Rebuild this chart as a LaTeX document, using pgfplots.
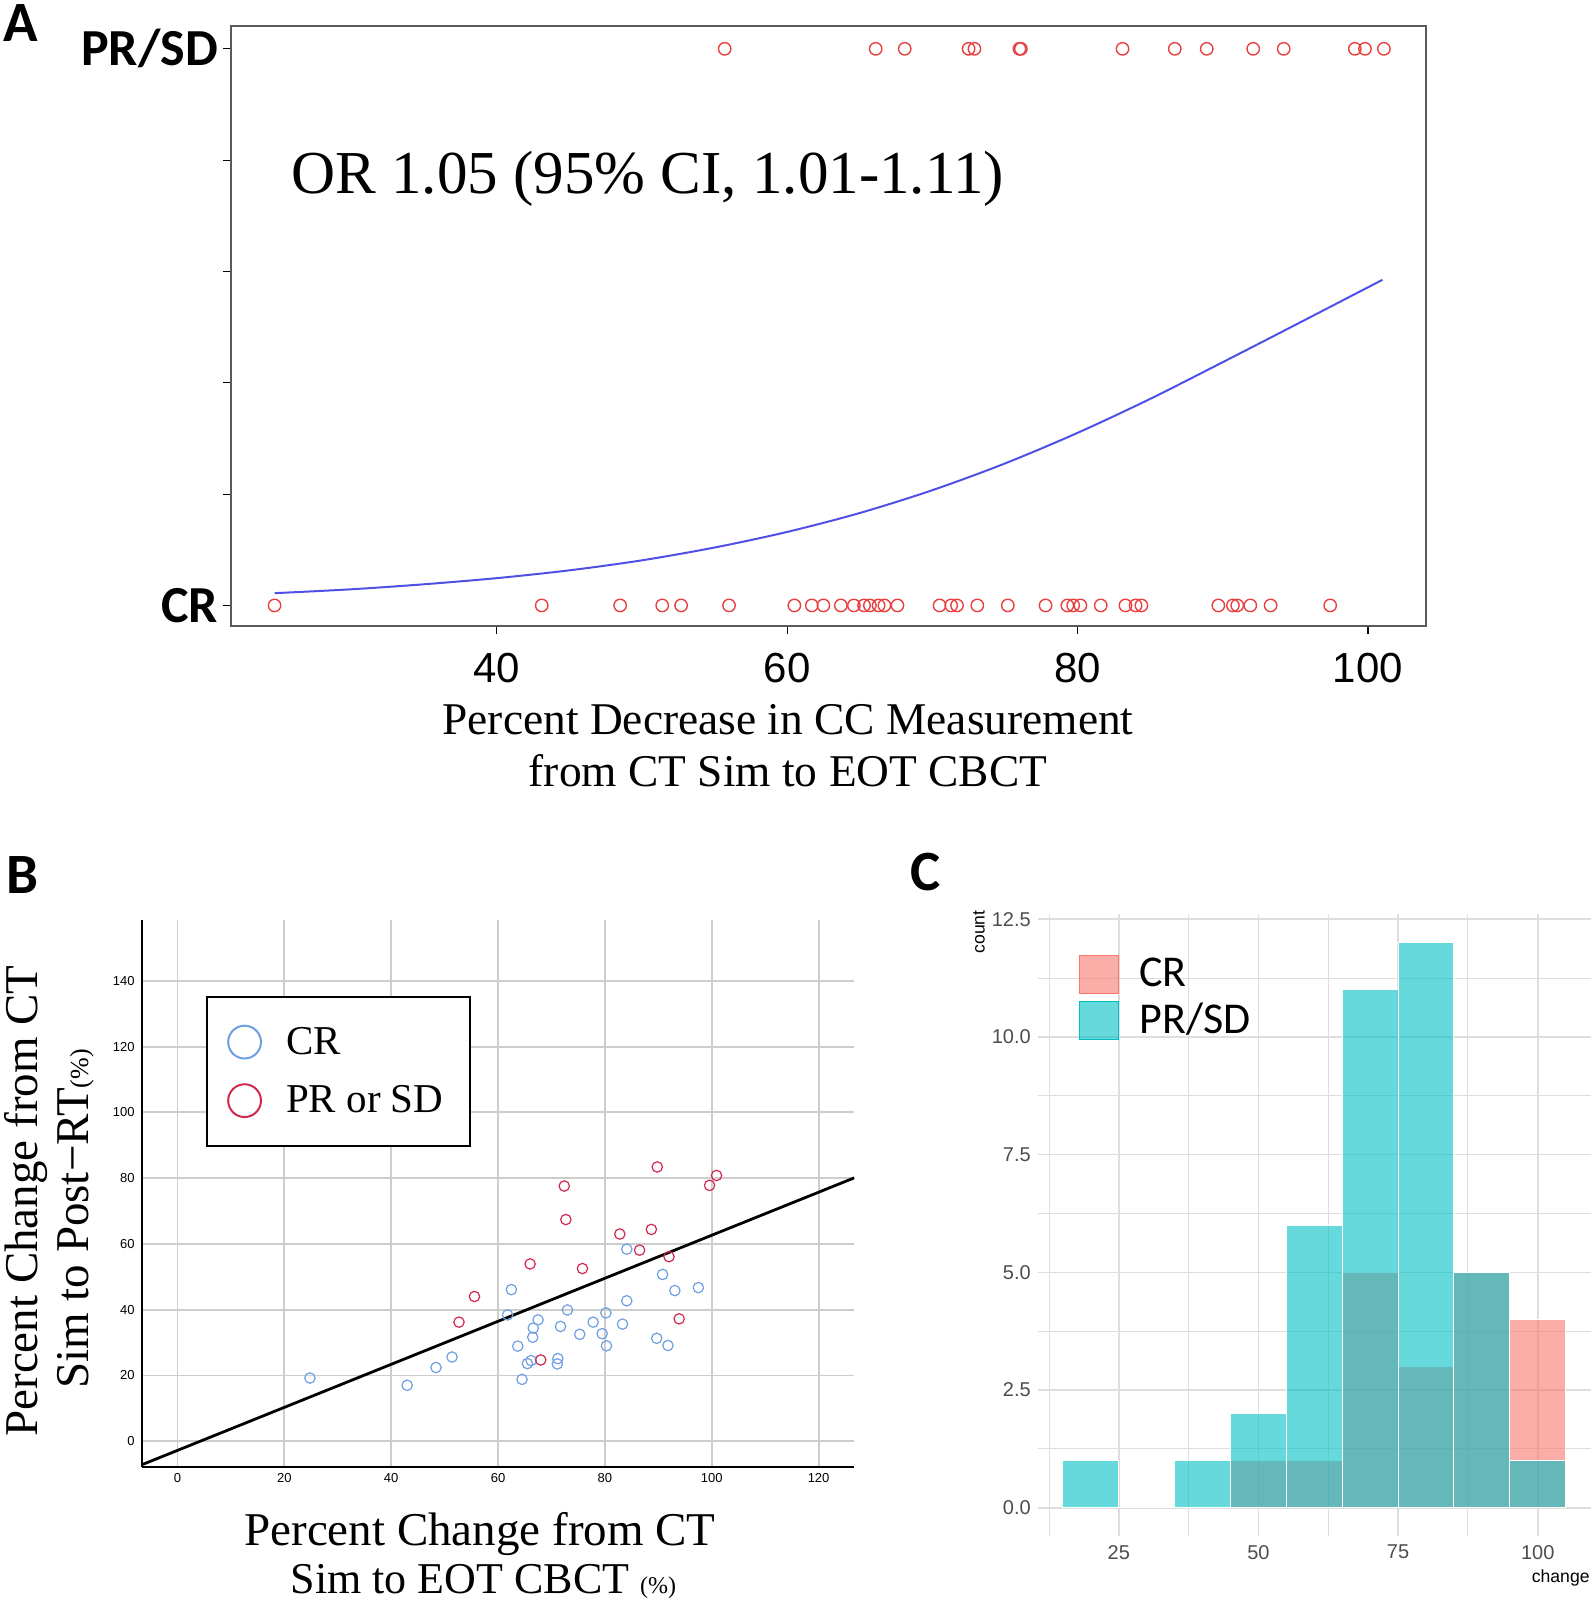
\documentclass[border=0pt]{standalone}
\usepackage{pgfplots}
\pgfplotsset{compat=1.18}
\usepackage{fontspec}
\setmainfont{Liberation Serif}
\newfontfamily\carlito{Carlito}
\newfontfamily\lsans{Liberation Sans}
\definecolor{aRed}{RGB}{232,64,64}
\definecolor{aBlue}{RGB}{80,80,230}
\definecolor{frameGray}{RGB}{90,90,90}
\definecolor{bBlue}{RGB}{110,160,225}
\definecolor{bRed}{RGB}{210,40,80}
\definecolor{gridB}{RGB}{205,205,205}
\definecolor{gridC}{RGB}{222,222,222}
\definecolor{tickGray}{RGB}{77,77,77}
\definecolor{ggPink}{HTML}{F8766D}
\definecolor{ggCyan}{HTML}{00BFC4}
\begin{document}
\begin{tikzpicture}[x=1pt,y=1pt]
\useasboundingbox (0,0) rectangle (797,-804);
% ---------------- Panel A ----------------
\begin{axis}[
  at={(115.5pt,-313pt)}, anchor=south west, scale only axis,
  width=597.5pt, height=300pt,
  xmin=21.7, xmax=104, ymin=-0.037, ymax=1.041,
  axis line style={draw=frameGray, line width=1pt},
  xtick={40,60,80,100}, ytick={0,0.2,0.4,0.6,0.8,1},
  yticklabels={CR,,,,,PR/SD},
  xtick pos=left, ytick pos=left, tick align=outside, major tick length=4pt,
  tick style={black, line width=0.6pt},
  /pgf/number format/assume math mode=true,
  xticklabel style={font=\lsans\fontsize{21}{21}\selectfont, yshift=-6pt},
  yticklabel style={font=\carlito\bfseries\fontsize{26}{26}\selectfont, xshift=1pt},
  clip=false,
]
\addplot[aBlue, line width=1pt, smooth] coordinates {
(24.7,0.022) (30,0.029) (35,0.038) (40,0.049) (45,0.063) (50,0.081) (55,0.104) (60,0.132)
(65,0.166) (70,0.207) (75,0.255) (80,0.310) (85,0.371) (90,0.437) (95,0.504) (101,0.585)};
\addplot[only marks, mark=o, color=aRed, mark size=3.1pt, line width=0.7pt] coordinates {
(55.7,1) (66.1,1) (68.1,1) (72.5,1) (72.9,1) (76.0,1) (76.1,1) (83.1,1) (86.7,1) (88.9,1)
(92.1,1) (94.2,1) (99.1,1) (99.8,1) (101.1,1)};
\addplot[only marks, mark=o, color=aRed, mark size=3.1pt, line width=0.7pt] coordinates {
(24.7,0) (43.1,0) (48.5,0) (51.4,0) (52.7,0) (56.0,0) (60.5,0) (61.7,0) (62.5,0) (63.7,0)
(64.6,0) (65.3,0) (65.7,0) (66.3,0) (66.7,0) (67.6,0) (70.5,0) (71.3,0) (71.7,0) (73.1,0)
(75.2,0) (77.8,0) (79.3,0) (79.7,0) (80.2,0) (81.6,0) (83.3,0) (84.0,0) (84.4,0) (89.7,0)
(90.7,0) (91.0,0) (91.9,0) (93.3,0) (97.4,0)};
\end{axis}
\node[anchor=base west, inner sep=0pt, font=\fontsize{30.5}{30.5}\selectfont] at (145.5,-96.5) {OR 1.05 (95\% CI, 1.01-1.11)};
\node[anchor=base, inner sep=0pt, font=\fontsize{22.7}{22.7}\selectfont] at (394,-367) {Percent Decrease in CC Measurement};
\node[anchor=base, inner sep=0pt, font=\fontsize{22.7}{22.7}\selectfont] at (394,-393) {from CT Sim to EOT CBCT};
\node[anchor=base west, inner sep=0pt, font=\carlito\bfseries\fontsize{28.5}{28.5}\selectfont] at (1.5,-20.5) {A};
% ---------------- Panel B ----------------
\begin{axis}[
  at={(70.8pt,-733.4pt)}, anchor=south west, scale only axis,
  width=356.4pt, height=273.4pt,
  xmin=-6.7, xmax=126.7, ymin=-7.8, ymax=158.5,
  axis x line*=bottom, axis y line*=left,
  axis line style={black, line width=0.9pt},
  xtick={0,20,...,120}, ytick={0,20,...,140},
  grid=major, grid style={draw=gridB, line width=0.9pt},
  major tick length=0pt,
  /pgf/number format/assume math mode=true,
  ticklabel style={font=\lsans\fontsize{6.5}{6.5}\selectfont},
  legend style={at={(axis description cs:0.0906,0.861)}, anchor=north west,
    draw=black, line width=1pt, fill=white,
    font=\fontsize{20.5}{20.5}\selectfont,
    inner xsep=10.5pt, inner ysep=12pt,
    nodes={inner sep=3pt},
    row sep=8.2pt,
    /tikz/every odd column/.append style={column sep=9.6pt}},
  legend cell align=left,
  legend image code/.code={\draw[#1, mark size=8.2pt, line width=1pt] plot coordinates {(0pt,0pt)};},
]
\addplot[black, line width=1.4pt, forget plot] coordinates {(-6.7,-7.2) (126.7,80.1)};
\addplot[only marks, mark=o, color=bBlue, mark size=2.6pt, line width=0.6pt] coordinates {
(24.8,19.2) (43.0,17.0) (48.4,22.4) (51.4,25.6) (62.5,46.1) (61.8,38.4) (63.7,28.9) (64.5,18.8)
(65.5,23.6) (66.2,24.5) (66.5,31.6) (66.6,34.4) (67.5,36.9) (71.1,23.5) (71.2,25.1) (71.7,34.9)
(73.0,39.9) (75.3,32.5) (77.8,36.2) (79.5,32.7) (80.2,39.0) (80.3,29.0) (83.3,35.6) (84.1,42.7)
(84.1,58.4) (89.7,31.3) (90.8,50.7) (91.8,29.1) (93.1,45.8) (97.5,46.7)};
\addlegendentry{CR}
\addplot[only marks, mark=o, color=bRed, mark size=2.6pt, line width=0.6pt] coordinates {
(72.4,77.6) (72.7,67.4) (89.8,83.4) (100.9,80.8) (99.6,77.8) (82.8,63.0) (88.7,64.4) (86.5,58.1)
(92.0,56.1) (66.0,53.9) (75.8,52.5) (55.6,44.0) (52.7,36.2) (68.0,24.7) (93.9,37.2)};
\addlegendentry{PR or SD}
\end{axis}
\node[anchor=base, rotate=90, inner sep=0pt, font=\fontsize{23.5}{23.5}\selectfont] at (19,-600.5) {Percent Change from CT};
\node[anchor=base, rotate=90, inner sep=0pt, font=\fontsize{23.5}{23.5}\selectfont] at (44,-609.5) {Sim to Post\textminus RT{\fontsize{13}{13}\selectfont(\%)}};
\node[anchor=base, inner sep=0pt, font=\fontsize{23.5}{23.5}\selectfont] at (240,-772.5) {Percent Change from CT};
\node[anchor=base, inner sep=0pt, font=\fontsize{22}{22}\selectfont] at (241.7,-796.7) {Sim to EOT CBCT {\fontsize{12}{12}\selectfont(\%)}};
\node[anchor=base west, inner sep=0pt, font=\carlito\bfseries\fontsize{28.5}{28.5}\selectfont] at (3,-446.5) {B};
% ---------------- Panel C ----------------
\begin{axis}[
  at={(518.9pt,-768pt)}, anchor=south west, scale only axis,
  width=276.5pt, height=310.8pt,
  xmin=10.5, xmax=109.5, ymin=-0.6, ymax=12.6,
  axis line style={draw=none}, major tick length=0pt, minor tick length=0pt,
  xtick={25,50,75,100}, minor xtick={12.5,37.5,62.5,87.5},
  ytick={0,2.5,5,7.5,10,12.5}, minor ytick={1.25,3.75,6.25,8.75,11.25},
  grid=both, major grid style={draw=gridC, line width=0.8pt},
  minor grid style={draw=gridC, line width=0.45pt},
  y tick label style={/pgf/number format/fixed, /pgf/number format/fixed zerofill, /pgf/number format/precision=1},
  /pgf/number format/assume math mode=true,
  ticklabel style={font=\lsans\fontsize{10}{10}\selectfont, text=tickGray},
  xticklabel style={yshift=-1pt},
  legend style={at={(axis description cs:0.0745,0.936)}, anchor=north west,
    draw=none, fill=none, font=\carlito\fontsize{22}{22}\selectfont,
    inner sep=0pt, nodes={inner sep=0pt}, row sep=3.5pt,
    /tikz/every odd column/.append style={column sep=10.3pt}},
  legend cell align=left,
]
\addplot[ybar interval, fill=ggPink, fill opacity=0.6, draw=white, line width=0.5pt,
  legend image code/.code={\fill[ggPink, fill opacity=0.6] (0pt,-9.5pt) rectangle (19.2pt,9.5pt);}]
  coordinates {(45,1) (55,1) (65,5) (75,3) (85,5) (95,4) (105,4)};
\addlegendentry{CR}
\addplot[ybar interval, fill=ggCyan, fill opacity=0.6, draw=white, line width=0.5pt,
  legend image code/.code={\fill[ggCyan, fill opacity=0.6] (0pt,-9.5pt) rectangle (19.2pt,9.5pt);}]
  coordinates {(15,1) (25,0) (35,1) (45,2) (55,6) (65,11) (75,12) (85,5) (95,1) (105,1)};
\addlegendentry{PR/SD}
\end{axis}
\node[rotate=90, inner sep=0pt, font=\lsans\fontsize{8.8}{8.8}\selectfont] at (489.5,-466) {count};
\node[anchor=base east, inner sep=0pt, font=\lsans\fontsize{8.8}{8.8}\selectfont] at (795,-791.3) {change};
\node[anchor=base west, inner sep=0pt, font=\carlito\bfseries\fontsize{28.5}{28.5}\selectfont] at (455,-445) {C};
\end{tikzpicture}
\end{document}
